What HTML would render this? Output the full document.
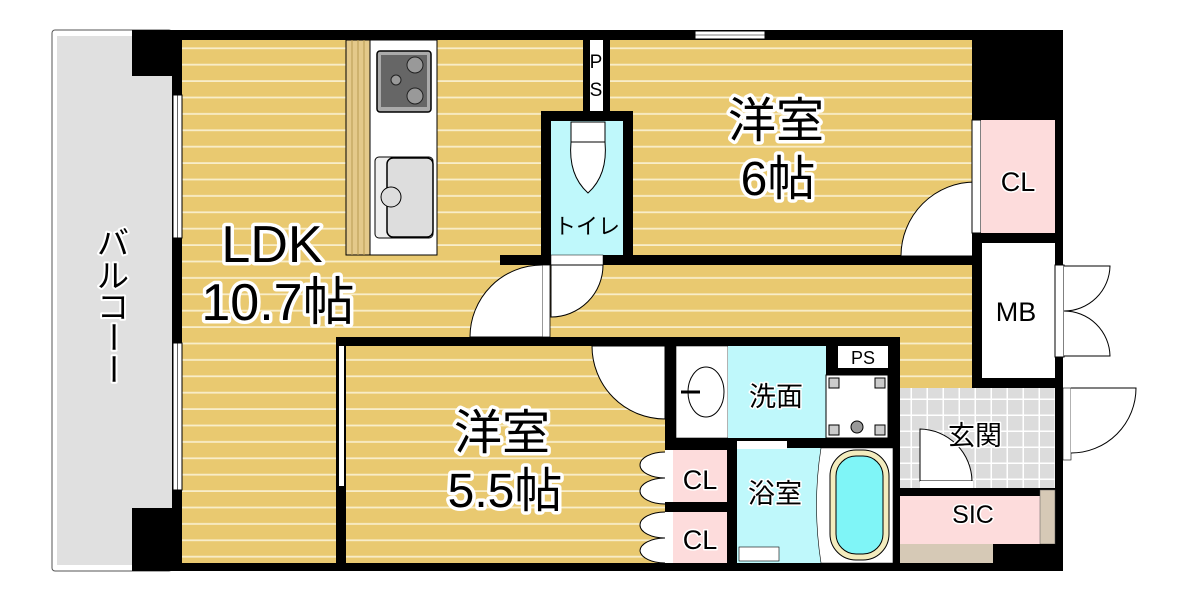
<!DOCTYPE html>
<html><head><meta charset="utf-8"><style>
html,body{margin:0;padding:0;background:#fff;width:1190px;height:594px;overflow:hidden}
text{font-family:"Liberation Sans","Noto Sans CJK JP",sans-serif;paint-order:stroke;stroke:#fff;stroke-linejoin:round}
</style></head><body>
<svg width="1190" height="594" viewBox="0 0 1190 594" xmlns="http://www.w3.org/2000/svg">
<defs>
<pattern id="fl" width="10" height="16.4" patternUnits="userSpaceOnUse">
<rect width="10" height="16.4" fill="#e9c970"/><rect y="14.6" width="10" height="1.8" fill="#f8edc9"/>
</pattern>
<pattern id="tile" width="16" height="16" patternUnits="userSpaceOnUse">
<rect width="16" height="16" fill="#dcdcdc"/><rect x="14.5" width="1.5" height="16" fill="#fff"/><rect y="14.5" width="16" height="1.5" fill="#fff"/>
</pattern>
</defs>
<!-- balcony -->
<rect x="52" y="30" width="120" height="541" fill="#fff" stroke="#555" stroke-width="1" rx="3"/>
<rect x="57" y="36" width="115" height="529" fill="#e0e0e0"/>
<!-- floors -->
<rect x="182" y="40" width="793" height="300" fill="url(#fl)"/>
<rect x="182" y="330" width="155" height="235" fill="url(#fl)"/>
<rect x="346" y="346" width="320" height="218" fill="url(#fl)"/>
<rect x="900" y="340" width="75" height="48" fill="url(#fl)"/>
<!-- outer walls -->
<rect x="132" y="30" width="843" height="10" fill="#000"/>
<rect x="132" y="30" width="50" height="46" fill="#000"/>
<rect x="172" y="30" width="10" height="541" fill="#000"/>
<rect x="132" y="508" width="50" height="63" fill="#000"/>
<rect x="132" y="563" width="931" height="8" fill="#000"/>
<rect x="972" y="30" width="91" height="90" fill="#000"/>
<rect x="1055" y="30" width="8" height="541" fill="#000"/>
<!-- balcony windows -->
<rect x="173" y="95" width="9" height="143" fill="#fff" stroke="#000" stroke-width="1"/>
<line x1="177.5" y1="95" x2="177.5" y2="238" stroke="#000" stroke-width="0.6"/>
<rect x="173" y="343" width="9" height="147" fill="#fff" stroke="#000" stroke-width="1"/>
<line x1="177.5" y1="343" x2="177.5" y2="490" stroke="#000" stroke-width="0.6"/>
<!-- top window -->
<rect x="695" y="31" width="70" height="8" fill="#fff" stroke="#000" stroke-width="1"/>
<line x1="695" y1="35" x2="765" y2="35" stroke="#000" stroke-width="0.6"/>
<!-- kitchen -->
<rect x="346" y="40" width="24" height="215" fill="#e4c98a" stroke="#000" stroke-width="1"/>
<g stroke="#b79a52" stroke-width="1"><line x1="352" y1="40" x2="352" y2="255"/><line x1="358" y1="40" x2="358" y2="255"/><line x1="364" y1="40" x2="364" y2="255"/></g>
<rect x="370" y="40" width="67" height="215" fill="#fff" stroke="#000" stroke-width="1"/>
<rect x="377" y="51" width="54" height="61" rx="3" fill="#aaa" stroke="#000" stroke-width="1.5"/>
<rect x="381" y="55" width="46" height="52" fill="#666"/>
<circle cx="415" cy="65" r="8" fill="#999" stroke="#222"/><circle cx="415" cy="96" r="8" fill="#999" stroke="#222"/><circle cx="396" cy="80" r="5" fill="#999" stroke="#222"/>
<rect x="375" y="157" width="58" height="81" rx="4" fill="#eee" stroke="#000" stroke-width="1"/>
<rect x="387" y="158" width="46" height="79" rx="6" fill="#ddd" stroke="#000" stroke-width="1.5"/>
<circle cx="391" cy="197" r="10" fill="#ddd" stroke="#000"/>
<!-- PS top -->
<rect x="583" y="40" width="27" height="72" fill="#000"/>
<rect x="590" y="40" width="13" height="72" fill="#fff"/>
<text x="596" y="68" font-size="19" text-anchor="middle" stroke-width="0">P</text>
<text x="596" y="96" font-size="19" text-anchor="middle" stroke-width="0">S</text>
<!-- toilet -->
<rect x="541" y="111" width="92" height="150" fill="#000"/>
<rect x="551" y="121" width="72" height="140" fill="#bff8fb"/>
<rect x="571" y="122" width="34" height="20" fill="#fff" stroke="#000"/>
<path d="M571 142 Q568 175 588 193 Q608 175 605 142 Z" fill="#fff" stroke="#000"/>
<text x="587" y="234" font-size="22" text-anchor="middle" stroke-width="0">トイレ</text>
<!-- middle wall -->
<rect x="500" y="255" width="475" height="10" fill="#000"/>
<rect x="551" y="255" width="52" height="10" fill="#fff" stroke="#000" stroke-width="0.5"/>
<path d="M551 265 L603 265 A52 52 0 0 1 551 317 Z" fill="#fff" stroke="#000"/>
<rect x="542" y="265" width="8" height="72" fill="#fff" stroke="#000" stroke-width="0.8"/>
<path d="M542 337 L470 337 A72 72 0 0 1 542 265" fill="#fff" stroke="#000"/>
<!-- bedroom 6 door -->
<path d="M975 256 L901 256 A74 74 0 0 1 975 182 Z" fill="#fff" stroke="#000"/>
<rect x="972" y="120" width="9" height="113" fill="#fff" stroke="#000"/>
<!-- CL top right -->
<rect x="981" y="120" width="74" height="113" fill="#fddcdc"/>
<rect x="972" y="233" width="91" height="10" fill="#000"/>
<rect x="972" y="243" width="10" height="145" fill="#000"/>
<rect x="982" y="243" width="73" height="135" fill="#fff"/>
<rect x="972" y="378" width="91" height="10" fill="#000"/>
<!-- MB doors -->
<rect x="1055" y="265" width="9" height="92" fill="#fff" stroke="#000"/>
<path d="M1064 266 L1110 266 A46 46 0 0 1 1064 311" fill="#fff" stroke="#000"/>
<path d="M1064 356 L1110 356 A46 46 0 0 0 1064 311" fill="#fff" stroke="#000"/>
<!-- lower bedroom walls -->
<rect x="336" y="337" width="330" height="9" fill="#000"/>
<rect x="336" y="337" width="10" height="234" fill="#000"/>
<rect x="339" y="346" width="5" height="140" fill="#fff"/>
<path d="M592 346 L665 346 L665 419 A73 73 0 0 1 592 346 Z" fill="#fff" stroke="#000"/>
<!-- wash block -->
<rect x="665" y="337" width="235" height="107" fill="#000"/>
<rect x="676" y="346" width="52" height="92" fill="#fff" stroke="#000" stroke-width="0.6"/>
<ellipse cx="706" cy="392" rx="18" ry="25" fill="#fff" stroke="#000"/>
<line x1="681" y1="392" x2="700" y2="392" stroke="#000" stroke-width="3"/>
<rect x="728" y="346" width="98" height="92" fill="#bff8fb"/>
<text x="776" y="406" font-size="27" text-anchor="middle" stroke-width="3">洗面</text>
<rect x="838" y="346" width="50" height="22" fill="#fff"/>
<text x="863" y="364" font-size="18" text-anchor="middle" stroke-width="0">PS</text>
<rect x="826" y="375" width="62" height="63" fill="#fff" stroke="#000"/>
<rect x="829" y="378" width="10" height="10" fill="#ccc" stroke="#000"/><rect x="875" y="378" width="10" height="10" fill="#ccc" stroke="#000"/>
<rect x="829" y="425" width="10" height="10" fill="#ccc" stroke="#000"/><rect x="875" y="425" width="10" height="10" fill="#ccc" stroke="#000"/>
<circle cx="857" cy="427" r="6" fill="#999" stroke="#000"/>
<!-- CLs -->
<rect x="665" y="444" width="72" height="127" fill="#000"/>
<rect x="673" y="450" width="54" height="52" fill="#fddcdc"/>
<rect x="673" y="512" width="54" height="51" fill="#fddcdc"/>
<rect x="665" y="450" width="8" height="52" fill="#fff"/>
<rect x="665" y="512" width="8" height="51" fill="#fff"/>
<path d="M665 452 A25 13 0 0 0 640 465 A25 13 0 0 0 665 478 M665 478 A25 13 0 0 0 640 491 A25 13 0 0 0 665 504" fill="#fff" stroke="#000"/>
<path d="M665 512 A25 13 0 0 0 640 525 A25 13 0 0 0 665 538 M665 538 A25 13 0 0 0 640 551 A25 13 0 0 0 665 563" fill="#fff" stroke="#000"/>
<text x="700" y="489" font-size="27" text-anchor="middle" stroke-width="3">CL</text>
<text x="700" y="549" font-size="27" text-anchor="middle" stroke-width="3">CL</text>
<!-- bath -->
<rect x="737" y="444" width="163" height="8" fill="#000"/>
<rect x="737" y="448" width="84" height="115" fill="#bff8fb"/>
<rect x="737" y="441" width="50" height="8" fill="#fff"/>
<path d="M821 448 Q812 505 821 563 L893 563 L893 448 Z" fill="#fff" stroke="#000" stroke-width="0.6"/>
<rect x="830" y="450" width="59" height="110" rx="26" fill="#f3ecbe" stroke="#000"/>
<rect x="836" y="456" width="47" height="98" rx="20" fill="#7ff5f7" stroke="#000"/>
<rect x="739" y="547" width="40" height="14" fill="#fff" stroke="#000" stroke-width="0.6"/>
<text x="775" y="503" font-size="27" text-anchor="middle" stroke-width="3">浴室</text>
<rect x="893" y="337" width="7" height="234" fill="#000"/>
<!-- genkan -->
<rect x="900" y="388" width="155" height="100" fill="url(#tile)"/>
<path d="M920 481 L920 429 A53 53 0 0 1 972 481 Z" fill="#fff" stroke="#000"/>
<rect x="920" y="481" width="53" height="7" fill="#fff"/>
<text x="975" y="445" font-size="27" text-anchor="middle" stroke-width="3">玄関</text>
<rect x="1063" y="388" width="8" height="72" fill="#fff" stroke="#000" stroke-width="0.6"/>
<path d="M1071 388 L1136 388 A65 65 0 0 1 1071 453" fill="#fff" stroke="#000"/>
<!-- SIC -->
<rect x="900" y="488" width="155" height="8" fill="#000"/>
<rect x="900" y="496" width="140" height="48" fill="#fddcdc"/>
<rect x="1040" y="490" width="15" height="54" fill="#d6c9b6" stroke="#555" stroke-width="0.5"/>
<rect x="900" y="544" width="93" height="19" fill="#d6c9b6"/>
<rect x="993" y="544" width="62" height="19" fill="#000"/>
<text x="973" y="523" font-size="25" text-anchor="middle" stroke-width="3">SIC</text>
<text x="1018" y="191" font-size="27" text-anchor="middle" stroke-width="3">CL</text>
<text x="1016" y="321" font-size="27" text-anchor="middle" stroke-width="0">MB</text>
<!-- big labels -->
<g stroke-width="7">
<text x="272" y="262" font-size="52" text-anchor="middle">LDK</text>
<text x="278" y="320" font-size="52" text-anchor="middle">10.7帖</text>
<text x="776" y="137" font-size="48" text-anchor="middle">洋室</text>
<text x="778" y="195" font-size="48" text-anchor="middle">6帖</text>
<text x="502" y="449" font-size="48" text-anchor="middle">洋室</text>
<text x="505" y="507" font-size="48" text-anchor="middle">5.5帖</text>
</g>
<g font-size="32" text-anchor="middle" stroke-width="4">
<text x="113" y="254">バ</text><text x="113" y="287">ル</text><text x="113" y="318">コ</text>
<text x="113" y="348" transform="rotate(90 113 337)">ー</text>
<text x="113" y="380" transform="rotate(90 113 369)">ー</text>
</g>
</svg>
</body></html>
